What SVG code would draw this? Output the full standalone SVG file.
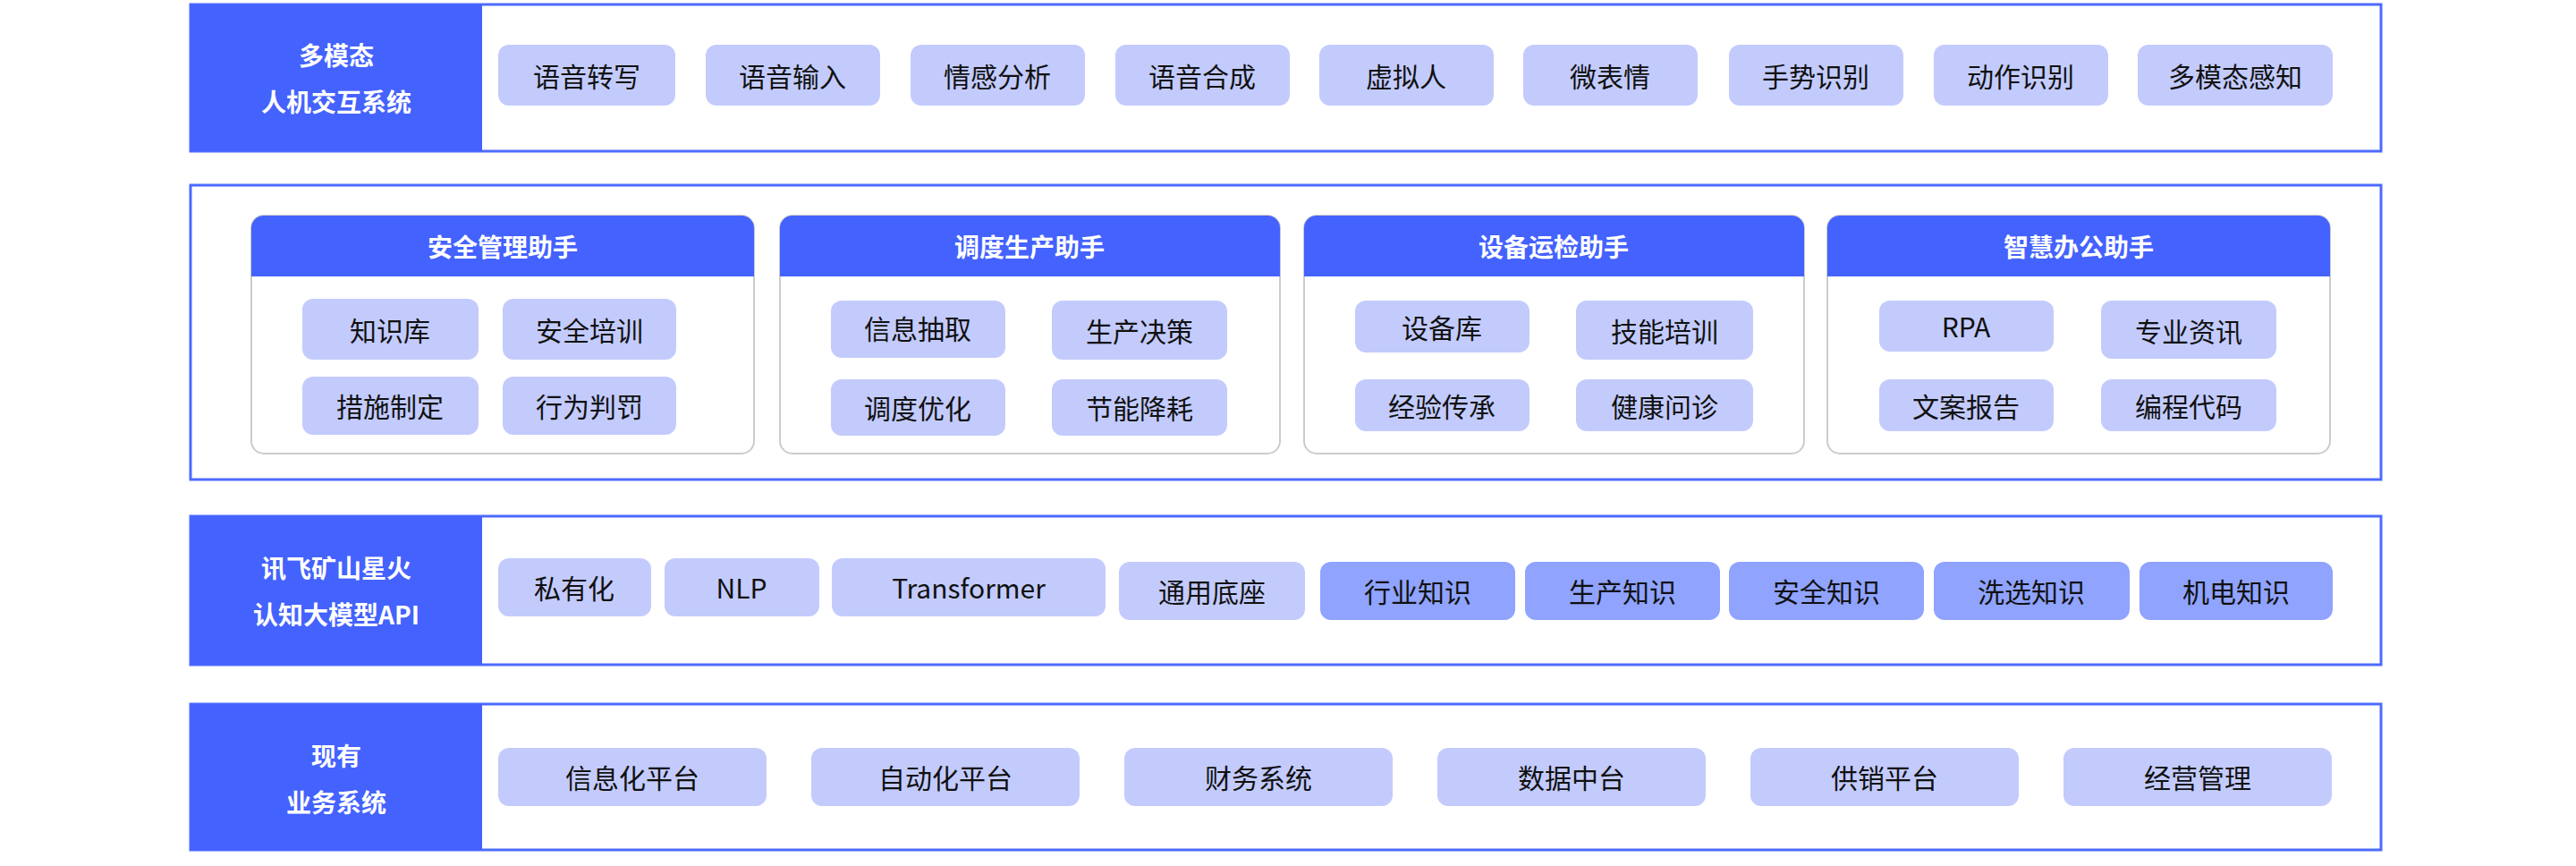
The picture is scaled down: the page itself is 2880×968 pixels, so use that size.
<svg xmlns="http://www.w3.org/2000/svg" width="2880" height="968" viewBox="0 0 2880 968">
<style>
.box{fill:#fff;stroke:#4C6BFF;stroke-width:3}
.panel{fill:#4462FE}
.lt{font-family:"Noto Sans CJK SC","Noto Sans",sans-serif;font-size:28px;font-weight:bold;fill:#fff;text-anchor:middle}
.chip{fill:#C3CBFD}
.chip2{fill:#8FA3FF}
.ct{font-family:"Noto Sans CJK SC","Noto Sans",sans-serif;font-size:30px;fill:#111;text-anchor:middle;dominant-baseline:central}
.card{fill:#fff;stroke:#CCCCCC;stroke-width:2}
.hd{fill:#4462FE}
.ht{font-family:"Noto Sans CJK SC","Noto Sans",sans-serif;font-size:28px;font-weight:bold;fill:#fff;text-anchor:middle;dominant-baseline:central}
</style>
<g id="layer1">
<rect class="box" x="213" y="5" width="2449" height="164"/>
<rect class="panel" x="213" y="5" width="326" height="164"/>
<text class="lt" x="376" y="73">多模态</text>
<text class="lt" x="376" y="125">人机交互系统</text>
</g>
<g id="layer1-chips">
<rect class="chip" x="557" y="50" width="198" height="68" rx="12"/><text class="ct" x="656" y="84">语音转写</text>
<rect class="chip" x="789" y="50" width="195" height="68" rx="12"/><text class="ct" x="886" y="84">语音输入</text>
<rect class="chip" x="1018" y="50" width="195" height="68" rx="12"/><text class="ct" x="1115" y="84">情感分析</text>
<rect class="chip" x="1247" y="50" width="195" height="68" rx="12"/><text class="ct" x="1344" y="84">语音合成</text>
<rect class="chip" x="1475" y="50" width="195" height="68" rx="12"/><text class="ct" x="1572" y="84">虚拟人</text>
<rect class="chip" x="1703" y="50" width="195" height="68" rx="12"/><text class="ct" x="1800" y="84">微表情</text>
<rect class="chip" x="1933" y="50" width="195" height="68" rx="12"/><text class="ct" x="2030" y="84">手势识别</text>
<rect class="chip" x="2162" y="50" width="195" height="68" rx="12"/><text class="ct" x="2259" y="84">动作识别</text>
<rect class="chip" x="2390" y="50" width="218" height="68" rx="12"/><text class="ct" x="2499" y="84">多模态感知</text>
</g>
<g id="layer2">
<rect class="box" x="213" y="207" width="2449" height="329"/>
</g>
<g id="card1">
<rect class="card" x="281" y="241" width="562" height="266" rx="14"/>
<path class="hd" d="M281 309V255a14 14 0 0 1 14-14h534a14 14 0 0 1 14 14v54z"/>
<text class="ht" x="562" y="275">安全管理助手</text>
<rect class="chip" x="338" y="334" width="197" height="68" rx="12"/><text class="ct" x="436" y="368">知识库</text>
<rect class="chip" x="562" y="334" width="194" height="68" rx="12"/><text class="ct" x="659" y="368">安全培训</text>
<rect class="chip" x="338" y="421" width="197" height="65" rx="12"/><text class="ct" x="436" y="453">措施制定</text>
<rect class="chip" x="562" y="421" width="194" height="65" rx="12"/><text class="ct" x="659" y="453">行为判罚</text>
</g>
<g id="card2">
<rect class="card" x="872" y="241" width="559" height="266" rx="14"/>
<path class="hd" d="M872 309V255a14 14 0 0 1 14-14h531a14 14 0 0 1 14 14v54z"/>
<text class="ht" x="1151" y="275">调度生产助手</text>
<rect class="chip" x="929" y="336" width="195" height="64" rx="12"/><text class="ct" x="1026" y="366">信息抽取</text>
<rect class="chip" x="1176" y="336" width="196" height="66" rx="12"/><text class="ct" x="1274" y="369">生产决策</text>
<rect class="chip" x="929" y="424" width="195" height="63" rx="12"/><text class="ct" x="1026" y="455">调度优化</text>
<rect class="chip" x="1176" y="424" width="196" height="63" rx="12"/><text class="ct" x="1274" y="455">节能降耗</text>
</g>
<g id="card3">
<rect class="card" x="1458" y="241" width="559" height="266" rx="14"/>
<path class="hd" d="M1458 309V255a14 14 0 0 1 14-14h531a14 14 0 0 1 14 14v54z"/>
<text class="ht" x="1737" y="275">设备运检助手</text>
<rect class="chip" x="1515" y="336" width="195" height="58" rx="12"/><text class="ct" x="1612" y="365">设备库</text>
<rect class="chip" x="1762" y="336" width="198" height="66" rx="12"/><text class="ct" x="1861" y="369">技能培训</text>
<rect class="chip" x="1515" y="424" width="195" height="58" rx="12"/><text class="ct" x="1612" y="453">经验传承</text>
<rect class="chip" x="1762" y="424" width="198" height="58" rx="12"/><text class="ct" x="1861" y="453">健康问诊</text>
</g>
<g id="card4">
<rect class="card" x="2043" y="241" width="562" height="266" rx="14"/>
<path class="hd" d="M2043 309V255a14 14 0 0 1 14-14h534a14 14 0 0 1 14 14v54z"/>
<text class="ht" x="2324" y="275">智慧办公助手</text>
<rect class="chip" x="2101" y="336" width="195" height="57" rx="12"/><text class="ct" x="2198" y="364">RPA</text>
<rect class="chip" x="2349" y="336" width="196" height="65" rx="12"/><text class="ct" x="2447" y="369">专业资讯</text>
<rect class="chip" x="2101" y="424" width="195" height="58" rx="12"/><text class="ct" x="2198" y="453">文案报告</text>
<rect class="chip" x="2349" y="424" width="196" height="58" rx="12"/><text class="ct" x="2447" y="453">编程代码</text>
</g>
<g id="layer3">
<rect class="box" x="213" y="577" width="2449" height="166"/>
<rect class="panel" x="213" y="577" width="326" height="166"/>
<text class="lt" x="376" y="646">讯飞矿山星火</text>
<text class="lt" x="376" y="698">认知大模型API</text>
</g>
<g id="layer3-chips">
<rect class="chip" x="557" y="624" width="171" height="65" rx="12"/><text class="ct" x="642" y="656">私有化</text>
<rect class="chip" x="743" y="624" width="173" height="65" rx="12"/><text class="ct" x="829" y="656">NLP</text>
<rect class="chip" x="930" y="624" width="306" height="65" rx="12"/><text class="ct" x="1083" y="656">Transformer</text>
<rect class="chip" x="1251" y="628" width="208" height="65" rx="12"/><text class="ct" x="1355" y="660">通用底座</text>
<rect class="chip2" x="1476" y="628" width="218" height="65" rx="12"/><text class="ct" x="1585" y="660">行业知识</text>
<rect class="chip2" x="1705" y="628" width="218" height="65" rx="12"/><text class="ct" x="1814" y="660">生产知识</text>
<rect class="chip2" x="1933" y="628" width="218" height="65" rx="12"/><text class="ct" x="2042" y="660">安全知识</text>
<rect class="chip2" x="2162" y="628" width="219" height="65" rx="12"/><text class="ct" x="2271" y="660">洗选知识</text>
<rect class="chip2" x="2392" y="628" width="216" height="65" rx="12"/><text class="ct" x="2500" y="660">机电知识</text>
</g>
<g id="layer4">
<rect class="box" x="213" y="787" width="2449" height="163"/>
<rect class="panel" x="213" y="787" width="326" height="163"/>
<text class="lt" x="376" y="856">现有</text>
<text class="lt" x="376" y="908">业务系统</text>
</g>
<g id="layer4-chips">
<rect class="chip" x="557" y="836" width="300" height="65" rx="12"/><text class="ct" x="707" y="868">信息化平台</text>
<rect class="chip" x="907" y="836" width="300" height="65" rx="12"/><text class="ct" x="1057" y="868">自动化平台</text>
<rect class="chip" x="1257" y="836" width="300" height="65" rx="12"/><text class="ct" x="1407" y="868">财务系统</text>
<rect class="chip" x="1607" y="836" width="300" height="65" rx="12"/><text class="ct" x="1757" y="868">数据中台</text>
<rect class="chip" x="1957" y="836" width="300" height="65" rx="12"/><text class="ct" x="2107" y="868">供销平台</text>
<rect class="chip" x="2307" y="836" width="300" height="65" rx="12"/><text class="ct" x="2457" y="868">经营管理</text>
</g>
<g id="connectors"/>
</svg>
